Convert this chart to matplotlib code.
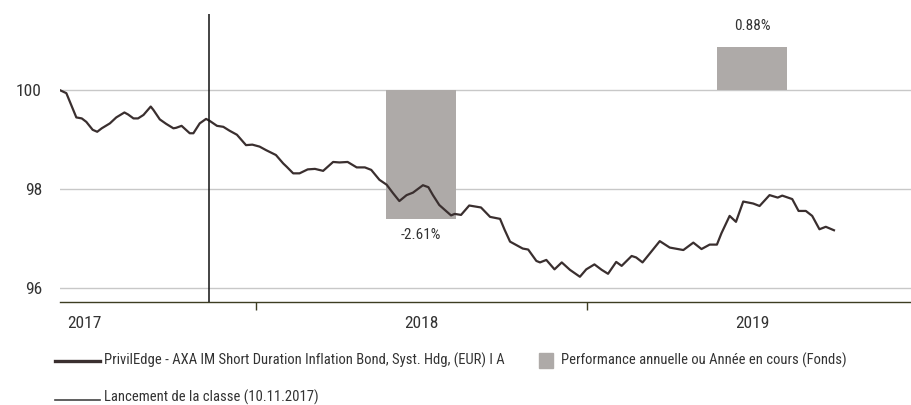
import numpy as np
import pandas as pd
import matplotlib
matplotlib.use("Agg")
import matplotlib.pyplot as plt
from matplotlib import font_manager
from matplotlib.lines import Line2D
from matplotlib.patches import Rectangle

# Narrow sans close to the Helvetica Condensed in the reference
installed = {f.name for f in font_manager.fontManager.ttflist}
narrow = next((n for n in ["Roboto Condensed", "Archivo Narrow", "PT Sans Narrow",
                           "Liberation Sans Narrow", "Fira Sans Condensed"] if n in installed),
              "DejaVu Sans")
plt.rcParams['font.family'] = [narrow, 'DejaVu Sans']

# Fund value (base 100)
dates = [
    "2017-05-30", "2017-06-06", "2017-06-17", "2017-06-23", "2017-06-28", "2017-07-05",
    "2017-07-10", "2017-07-15", "2017-07-24", "2017-07-31", "2017-08-09", "2017-08-13",
    "2017-08-19", "2017-08-24", "2017-08-30", "2017-09-07", "2017-09-10", "2017-09-17",
    "2017-09-24", "2017-10-02", "2017-10-05", "2017-10-11", "2017-10-14", "2017-10-20",
    "2017-10-24", "2017-10-31", "2017-11-07", "2017-11-11", "2017-11-19", "2017-11-26",
    "2017-12-03", "2017-12-11", "2017-12-21", "2017-12-28", "2018-01-05", "2018-01-12",
    "2018-01-23", "2018-01-31", "2018-02-04", "2018-02-11", "2018-02-18", "2018-02-27",
    "2018-03-07", "2018-03-16", "2018-03-27", "2018-04-03", "2018-04-12", "2018-04-22",
    "2018-05-01", "2018-05-08", "2018-05-17", "2018-05-25", "2018-06-01", "2018-06-08",
    "2018-06-16", "2018-06-23", "2018-07-04", "2018-07-10", "2018-07-15", "2018-07-22",
    "2018-07-30", "2018-08-04", "2018-08-08", "2018-08-15", "2018-08-24", "2018-09-06",
    "2018-09-16", "2018-09-27", "2018-10-02", "2018-10-08", "2018-10-15", "2018-10-22",
    "2018-10-28", "2018-11-06", "2018-11-10", "2018-11-17", "2018-11-26", "2018-12-04",
    "2018-12-13", "2018-12-24", "2018-12-31", "2019-01-09", "2019-01-17", "2019-01-24",
    "2019-02-02", "2019-02-08", "2019-02-19", "2019-02-24", "2019-03-03", "2019-03-11",
    "2019-03-22", "2019-04-02", "2019-04-17", "2019-04-28", "2019-05-07", "2019-05-16",
    "2019-05-24", "2019-05-29", "2019-06-07", "2019-06-14", "2019-06-22", "2019-07-03",
    "2019-07-10", "2019-07-21", "2019-07-30", "2019-08-04", "2019-08-15", "2019-08-22",
    "2019-08-30", "2019-09-06", "2019-09-14", "2019-09-21", "2019-09-30",
]
values = [
    100.00, 99.94, 99.45, 99.43, 99.36, 99.20,
    99.16, 99.23, 99.33, 99.45, 99.55, 99.51,
    99.43, 99.43, 99.50, 99.67, 99.60, 99.41,
    99.32, 99.23, 99.24, 99.28, 99.23, 99.13,
    99.13, 99.33, 99.42, 99.38, 99.28, 99.26,
    99.18, 99.10, 98.89, 98.90, 98.86, 98.79,
    98.69, 98.52, 98.45, 98.32, 98.32, 98.40,
    98.41, 98.37, 98.55, 98.54, 98.55, 98.44,
    98.44, 98.39, 98.19, 98.09, 97.92, 97.76,
    97.88, 97.93, 98.08, 98.04, 97.88, 97.68,
    97.55, 97.47, 97.50, 97.48, 97.67, 97.63,
    97.44, 97.40, 97.18, 96.94, 96.87, 96.80,
    96.78, 96.55, 96.52, 96.57, 96.38, 96.52,
    96.37, 96.23, 96.38, 96.48, 96.37, 96.29,
    96.53, 96.45, 96.65, 96.62, 96.52, 96.70,
    96.95, 96.82, 96.77, 96.92, 96.79, 96.88,
    96.88, 97.11, 97.46, 97.34, 97.75, 97.71,
    97.66, 97.88, 97.83, 97.87, 97.80, 97.56,
    97.56, 97.46, 97.19, 97.24, 97.17,
]

# Yearly performance bars
years = [2018, 2019]
perf = [-2.61, 0.88]
launch_date = "2017-11-10"

line_label = "PrivilEdge - AXA IM Short Duration Inflation Bond, Syst. Hdg, (EUR) I A"
bar_label = "Performance annuelle ou Année en cours (Fonds)"
launch_label = "Lancement de la classe (10.11.2017)"

LINE_COLOR = "#3a2f2f"
BAR_COLOR = "#aeaaa8"
TEXT_COLOR = "#333333"

fig = plt.figure(figsize=(9.12, 4.05), dpi=100)
ax = fig.add_axes([60 / 912, 1 - 302 / 405, 1 - 60 / 912, (302 - 14) / 405])

x = pd.to_datetime(dates)
base = 100

# Performance bars, centred on mid-year
for yr, p in zip(years, perf):
    mid = pd.Timestamp(f"{yr}-07-02")
    ax.bar(mid, base * p / 100, bottom=base, width=77, color=BAR_COLOR, zorder=1)
    top = base + base * p / 100
    if p < 0:
        ax.text(mid, top - 0.17, f"{p:.2f}%", ha="center", va="top",
                fontsize=11, color=TEXT_COLOR)
    else:
        ax.text(mid, top + 0.28, f"{p:.2f}%", ha="center", va="bottom",
                fontsize=11, color=TEXT_COLOR)

ax.plot(x, values, color=LINE_COLOR, lw=1.6, zorder=3)
ax.axvline(pd.Timestamp(launch_date), color="#111111", lw=1.1, zorder=4)

# Axis limits
ax.set_xlim(pd.Timestamp("2017-05-30"), pd.Timestamp("2019-12-25"))
ax.set_ylim(95.72, 101.54)

# Grid and spines
ax.set_yticks([96, 98, 100])
ax.yaxis.grid(True, color="#c8c8c8", lw=1.0)
ax.set_axisbelow(True)
for side in ["top", "right", "left"]:
    ax.spines[side].set_visible(False)
ax.spines["bottom"].set_color("#3d3d22")
ax.spines["bottom"].set_linewidth(1.0)
ax.tick_params(axis="y", length=0, labelsize=12.5, labelcolor=TEXT_COLOR, pad=13)

# Year boundary ticks, labels centred in each year
ax.set_xticks([pd.Timestamp("2018-01-01"), pd.Timestamp("2019-01-01")])
ax.set_xticklabels([])
ax.tick_params(axis="x", direction="out", length=6, width=1.0, color="#3d3d22")
year_labels = [("2017", pd.Timestamp("2017-06-26")), ("2018", pd.Timestamp("2018-07-02")),
               ("2019", pd.Timestamp("2019-07-02"))]
for lab, pos in year_labels:
    ax.text(pos, -0.05, lab, transform=ax.get_xaxis_transform(), ha="center", va="top",
            fontsize=12.5, color=TEXT_COLOR)

# Legend, drawn in figure pixels
W, H = 912, 405
def fy(py):
    return 1 - py / H

fig.add_artist(Line2D([55 / W, 100 / W], [fy(360.5)] * 2, color=LINE_COLOR, lw=2.4))
fig.text(104 / W, fy(360.5), line_label, va="center", ha="left", fontsize=10.5,
         color=TEXT_COLOR)
fig.add_artist(Rectangle((539 / W, fy(368)), 14 / W, 15 / H, color=BAR_COLOR,
                         transform=fig.transFigure))
fig.text(561 / W, fy(360.5), bar_label, va="center", ha="left", fontsize=10.5,
         color=TEXT_COLOR)
fig.add_artist(Line2D([55 / W, 100 / W], [fy(399.5)] * 2, color="#444444", lw=1.2))
fig.text(104 / W, fy(397.5), launch_label, va="center", ha="left", fontsize=10.5,
         color=TEXT_COLOR)

fig.savefig("out.png", dpi=100)
